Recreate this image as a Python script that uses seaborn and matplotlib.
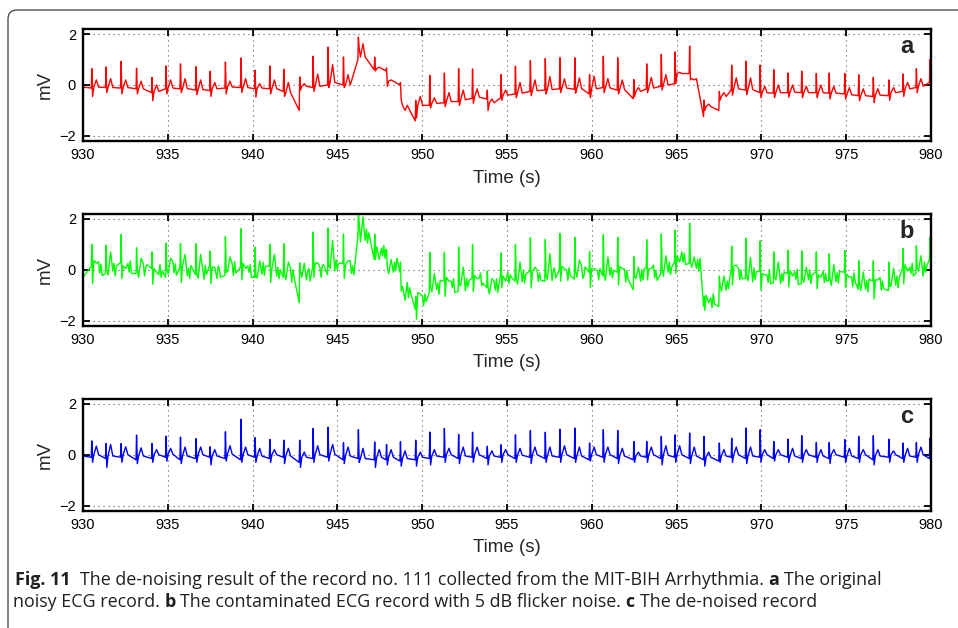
import numpy as np
import pandas as pd
import seaborn as sns
import matplotlib.pyplot as plt
from matplotlib import font_manager
from matplotlib.patches import FancyBboxPatch
from matplotlib.transforms import IdentityTransform

# R-peak times (s)
beat_t = [930.52, 931.36, 932.25, 933.16, 934.07, 934.90, 935.75, 936.67, 937.50, 938.40,
          939.32, 940.15, 941.02, 941.84, 942.78, 943.57, 944.45, 945.36, 946.24, 947.20,
          947.90, 948.72, 949.62, 950.45, 951.31, 952.15, 952.97, 953.84, 954.65, 955.50,
          956.38, 957.26, 958.12, 959.00, 959.87, 960.68, 961.53, 962.48, 963.24, 964.10,
          964.91, 965.77, 966.62, 967.52, 968.25, 969.09, 969.93, 970.73, 971.57, 972.38,
          973.24, 974.00, 974.92, 975.74, 976.60, 977.52, 978.35, 979.14, 979.94]

# a: original record (mV). per beat: level just before R, R peak, S dip,
# level after the beat, T hump
a_q = [-0.12, -0.10, -0.12, -0.15, -0.30, -0.15, -0.15, -0.20, -0.22, -0.12,
       -0.10, -0.15, -0.15, -0.25, -1.00, -0.10, 0.00, 0.00, 1.00, 0.60,
       0.55, 0.00, -1.41, -0.80, -0.70, -0.65, -0.52, -0.55, -0.50, -0.35,
       -0.25, -0.20, -0.15, -0.17, -0.35, -0.10, -0.20, -0.54, -0.15, -0.05,
       0.05, 0.45, -1.24, -1.00, -0.20, -0.20, -0.30, -0.32, -0.30, -0.30,
       -0.30, -0.32, -0.35, -0.42, -0.45, -0.42, -0.25, -0.10, 0.10]
a_r = [0.64, 0.71, 0.93, 0.66, 0.30, 0.75, 0.83, 0.72, 0.54, 0.90,
       1.06, 0.58, 0.75, 0.62, 0.32, 1.13, 1.49, 1.10, 1.88, 1.10,
       0.67, 0.10, -0.60, 0.38, 0.47, 0.64, 0.63, -0.20, 0.41, 0.74,
       0.96, 1.04, 1.07, 1.07, 0.41, 1.13, 1.07, 0.21, 0.83, 1.20,
       1.30, 1.53, -0.60, -0.25, 0.78, 0.93, 0.78, 0.60, 0.47, 0.54,
       0.45, 0.47, 0.45, 0.40, 0.30, 0.20, 0.43, 0.64, 1.00]
a_s = [-0.45, -0.30, -0.35, -0.35, -0.62, -0.35, -0.30, -0.38, -0.45, -0.35,
       -0.30, -0.48, -0.35, -0.45, -0.20, -0.25, -0.10, -0.10, 1.45, 0.55,
       -0.05, -0.60, -1.30, -0.90, -0.85, -0.80, -0.72, -1.00, -0.60, -0.50,
       -0.42, -0.35, -0.30, -0.32, -0.50, -0.30, -0.35, -0.45, -0.30, -0.20,
       0.05, 0.20, -1.00, -0.60, -0.40, -0.38, -0.50, -0.50, -0.48, -0.50,
       -0.50, -0.55, -0.55, -0.62, -0.70, -0.60, -0.45, -0.30, 0.00]
a_lvl = [-0.08, -0.10, -0.10, -0.15, -0.25, -0.12, -0.14, -0.18, -0.15, -0.08,
         -0.10, -0.12, -0.15, -0.30, -0.05, -0.05, 0.10, 0.00, 1.10, 0.65,
         0.15, -0.80, -0.80, -0.72, -0.65, -0.58, -0.48, -0.70, -0.40, -0.32,
         -0.22, -0.18, -0.12, -0.14, -0.15, -0.12, -0.18, -0.25, -0.12, 0.00,
         0.45, 0.25, -0.85, -0.45, -0.15, -0.18, -0.30, -0.30, -0.28, -0.30,
         -0.30, -0.32, -0.38, -0.42, -0.40, -0.30, -0.15, -0.05, 0.10]
a_tw = [0.20, 0.25, 0.20, 0.15, 0.00, 0.20, 0.25, 0.20, 0.10, 0.15,
        0.25, 0.05, 0.20, 0.10, 0.05, 0.43, 0.80, 0.40, 1.62, 0.70,
        0.20, -1.00, -0.45, -0.50, -0.30, -0.20, -0.15, -0.55, -0.20, 0.10,
        0.20, 0.33, 0.24, 0.28, 0.34, 0.25, 0.20, -0.10, 0.30, 0.40,
        0.50, 0.20, -0.75, -0.30, 0.28, 0.28, -0.05, 0.00, 0.00, -0.05,
        0.00, -0.05, -0.10, -0.15, -0.15, -0.10, 0.10, 0.25, 0.20]

# b: record a with 5 dB flicker noise -> slow offset per beat and the fast wiggle
# on each of the 9 points of a beat
b_drift = [.15, .15, .15, .15, .15, .15, .1, .1, .1, .1,
           .1, .1, .1, .1, -.1, .05, .05, .05, .2, 0,
           0, 0, -.35, .05, .05, .05, .05, .05, .05, 0,
           0, 0, 0, 0, 0, 0, 0, 0, 0, 0,
           0, 0, -.35, -.2, 0, 0, 0, 0, 0, 0,
           0, 0, 0, -.15, -.15, -.15, .1, .1, .1]
b_noise = [
    [.1, .2, -.25, .3, -.1, .25, -.2, .15, -.3], [-.2, .1, .15, -.25, .3, -.1, .2, -.3, .1],
    [.25, .3, -.15, .1, -.3, .2, -.15, .3, -.2], [-.15, .05, .2, -.3, .15, .25, -.25, .1, .2],
    [.2, .25, -.1, .15, -.25, -.1, .3, -.2, .05], [-.3, .15, .25, -.2, .1, .3, -.15, .2, -.25],
    [.15, .1, -.3, .2, .25, -.2, .1, -.3, .2], [-.1, .2, .1, -.25, .3, .05, -.3, .25, -.1],
    [.3, .1, -.2, .15, -.1, -.3, .2, .1, -.25], [-.2, .3, .15, -.1, .25, .2, -.25, .3, -.15],
    [.1, .45, -.2, .25, -.3, .15, -.1, .2, -.3], [-.25, .2, .1, -.3, .2, -.15, .3, -.2, .15],
    [.2, .15, -.25, .1, .3, -.2, .15, -.3, .05], [-.15, .3, .2, -.2, .1, .25, -.3, .2, -.1],
    [-.2, .05, .25, -.15, .3, -.25, .1, .2, -.3], [.15, .3, -.1, .25, -.2, .1, -.3, .15, .2],
    [-.25, .1, .2, -.1, .3, -.2, .25, -.15, .1], [.2, .25, -.3, .15, -.1, .3, -.2, .1, -.25],
    [.1, .25, .2, -.2, .25, -.15, .3, -.25, .15], [-.2, .3, -.15, .25, -.3, .2, -.1, .3, -.2],
    [.25, .1, .15, -.3, .2, -.25, .15, -.2, .3], [-.1, .2, -.25, .15, -.2, .3, -.3, .1, -.15],
    [.2, -.1, -.3, .25, -.15, .1, -.25, .2, -.1], [-.15, .25, .2, -.2, .3, -.1, .15, -.3, .25],
    [.2, .15, -.25, .3, -.2, .15, -.1, .25, -.3], [-.25, .2, .15, -.1, .25, -.3, .2, -.15, .1],
    [.15, .3, -.2, .2, -.25, .1, .3, -.2, -.1], [-.2, .1, .25, -.3, .15, .2, -.15, .3, -.25],
    [.25, .2, -.15, .1, -.3, .25, -.2, .15, .05], [-.1, .25, .2, -.25, .2, -.15, .3, -.2, .15],
    [.2, .3, -.3, .15, -.1, .2, -.25, .1, -.2], [-.25, .15, .1, -.2, .3, -.25, .15, .25, -.15],
    [.15, .35, -.15, .25, -.2, .1, -.3, .2, -.1], [-.2, .2, .25, -.15, .1, .3, -.2, -.1, .25],
    [.25, .3, -.2, .2, -.3, .15, .1, -.25, .2], [-.15, .25, .15, -.3, .25, -.1, .2, -.2, .1],
    [.1, .2, -.25, .3, -.15, .2, -.3, .15, -.2], [-.25, .3, .2, -.1, .2, -.2, .25, -.15, .3],
    [.2, .35, -.1, .15, -.25, .3, -.2, .1, -.3], [-.1, .2, .25, -.25, .15, -.1, .3, -.2, .1],
    [.25, .25, -.2, .1, -.2, .25, -.15, .2, -.25], [-.2, .3, .1, -.15, .3, -.2, .15, -.3, .2],
    [.15, -.1, -.25, .2, -.2, .1, -.3, .25, -.15], [-.25, .2, .2, -.2, .25, -.15, .2, -.1, .3],
    [.2, .15, -.2, .3, -.1, .2, -.25, .15, -.2], [-.15, .3, .15, -.25, .2, -.3, .25, -.2, .1],
    [.25, .35, -.3, .15, -.15, .1, -.2, .3, -.25], [-.2, .1, .2, -.1, .3, -.25, .15, -.15, .2],
    [.15, .3, -.2, .25, -.25, .2, -.1, .3, -.3], [-.25, .2, .15, -.2, .15, -.1, .3, -.25, .1],
    [.2, .25, -.25, .1, -.3, .25, -.2, .15, -.15], [-.1, .15, .2, -.3, .25, -.15, .2, -.2, .25],
    [.25, .3, -.15, .2, -.2, .1, -.3, .25, -.1], [-.2, .1, .25, -.25, .2, -.2, .15, -.3, .2],
    [.15, .2, -.3, .15, -.1, .25, -.25, .1, -.2], [-.25, .25, .1, -.2, .3, -.15, .2, -.25, .15],
    [.2, .3, -.2, .25, -.25, .15, -.1, .3, -.2], [-.15, .2, .25, -.1, .2, -.3, .25, -.15, .1],
    [.2, .15, -.15, .3, -.2, .2, -.25, .2, -.1]]

# c: de-noised record
c_q = [-0.1, -0.15, -0.1, -0.2, -0.15, -0.1, -0.2, -0.15, -0.1, -0.15,
       -0.2, -0.1, -0.15, -0.1, -0.3, -0.15, -0.1, -0.2, -0.15, -0.2,
       -0.2, -0.25, -0.2, -0.15, -0.1, -0.15, -0.1, -0.15, -0.1, -0.15,
       -0.1, -0.15, -0.1, -0.15, -0.2, -0.1, -0.15, -0.2, -0.1, -0.15,
       -0.1, -0.15, -0.2, -0.25, -0.1, -0.15, -0.1, -0.15, -0.1, -0.15,
       -0.1, -0.15, -0.1, -0.15, -0.2, -0.1, -0.15, -0.1, -0.15]
c_r = [0.54, 0.44, 0.44, 0.77, 0.44, 0.73, 0.69, 0.63, 0.31, 0.90,
       1.39, 0.67, 0.60, 0.57, 0.57, 1.03, 1.08, 0.47, 0.98, 0.50,
       0.40, 0.51, 0.57, 0.89, 1.03, 0.80, 0.88, 0.33, 0.39, 0.78,
       0.95, 0.88, 1.00, 1.05, 0.46, 0.98, 0.95, 0.52, 0.52, 0.72,
       0.78, 0.85, 0.72, 0.46, 0.65, 1.05, 0.98, 0.52, 0.61, 0.75,
       0.48, 0.48, 0.59, 0.72, 0.75, 0.61, 0.46, 0.48, 0.65]
c_s = [-0.30, -0.50, -0.30, -0.35, -0.30, -0.25, -0.35, -0.30, -0.40, -0.25,
       -0.30, -0.30, -0.30, -0.35, -0.50, -0.30, -0.25, -0.35, -0.30, -0.50,
       -0.40, -0.45, -0.45, -0.40, -0.30, -0.35, -0.30, -0.40, -0.30, -0.30,
       -0.35, -0.30, -0.30, -0.30, -0.25, -0.30, -0.35, -0.30, -0.30, -0.40,
       -0.30, -0.35, -0.45, -0.30, -0.30, -0.35, -0.30, -0.25, -0.30, -0.30,
       -0.30, -0.35, -0.30, -0.30, -0.40, -0.30, -0.30, -0.30, -0.30]
c_lvl = [0.0, -0.05, 0.0, -0.05, 0.0, 0.02, -0.05, 0.0, -0.05, 0.02,
         0.0, -0.05, 0.0, -0.05, -0.1, 0.0, 0.02, -0.05, -0.15, -0.1,
         -0.1, -0.15, -0.1, -0.05, 0.0, -0.05, 0.0, -0.05, 0.0, -0.02,
         0.0, -0.05, 0.0, -0.05, 0.0, 0.0, -0.05, -0.05, 0.0, -0.02,
         0.0, -0.05, -0.1, -0.05, 0.0, -0.05, 0.0, 0.0, -0.05, 0.0,
         -0.05, 0.0, -0.05, 0.0, -0.05, 0.0, -0.05, 0.0, 0.0]
c_tw = [0.34, 0.40, 0.31, 0.27, 0.20, 0.25, 0.30, 0.30, 0.20, 0.35,
        0.30, 0.25, 0.20, 0.25, 0.10, 0.35, 0.40, 0.30, 0.25, 0.20,
        0.20, 0.15, 0.10, 0.20, 0.25, 0.30, 0.30, 0.15, 0.20, 0.25,
        0.30, 0.30, 0.35, 0.30, 0.30, 0.30, 0.25, 0.10, 0.30, 0.35,
        0.35, 0.30, 0.10, 0.20, 0.30, 0.30, 0.20, 0.20, 0.25, 0.20,
        0.20, 0.20, 0.25, 0.20, 0.20, 0.15, 0.25, 0.30, 0.30]

trace_start = [-0.08, -0.30, -0.05]   # value at 930 s for a, b, c
x_ticks = [930, 935, 940, 945, 950, 955, 960, 965, 970, 975, 980]
y_ticks = [-2, 0, 2]
panel_tags = ['a', 'b', 'c']
line_colors = ['#ff0000', '#00ff00', '#0000ff']

caption = [
    [('Fig. 11', 'bold', 0),
     ('The de-noising result of the record no. 111 collected from the MIT-BIH Arrhythmia.', 'normal', 2),
     ('a', 'bold', 1), ('The original', 'normal', 1)],
    [('noisy ECG record.', 'normal', 0), ('b', 'bold', 1),
     ('The contaminated ECG record with 5 dB flicker noise.', 'normal', 1),
     ('c', 'bold', 1), ('The de-noised record', 'normal', 1)],
]


def beat_frame(start, q, r, s, lvl, tw, noise=None, drift=None):
    t_all, v_all = [930.0], [start]
    for i, t0 in enumerate(beat_t):
        pts = [(t0 - 0.03, q[i]), (t0, r[i]), (t0 + 0.045, s[i]),
               (t0 + 0.12, lvl[i]), (t0 + 0.27, tw[i]), (t0 + 0.40, lvl[i])]
        if noise is not None:
            pts += [(t0 + 0.47, lvl[i]), (t0 + 0.54, lvl[i]), (t0 + 0.61, lvl[i])]
            pts = [(t, v + noise[i][k] + drift[i]) for k, (t, v) in enumerate(pts)]
        for t, v in pts:
            t_all.append(t)
            v_all.append(v)
    return pd.DataFrame({'t': t_all, 'mV': v_all})


frames = [beat_frame(trace_start[0], a_q, a_r, a_s, a_lvl, a_tw),
          beat_frame(trace_start[1], a_q, a_r, a_s, a_lvl, a_tw, b_noise, b_drift),
          beat_frame(trace_start[2], c_q, c_r, c_s, c_lvl, c_tw)]

sns.set_theme(style='ticks')
plt.rcParams['font.family'] = ['Liberation Sans', 'DejaVu Sans']

fig = plt.figure(figsize=(9.58, 6.28), dpi=100)
panel_bottom = [0.7755, 0.4814, 0.1868]

for k in range(3):
    ax = fig.add_axes([0.0866, panel_bottom[k], 0.8852, 0.1783])
    sns.lineplot(data=frames[k], x='t', y='mV', ax=ax, color=line_colors[k],
                 linewidth=1.0, sort=False, estimator=None)
    ax.set_xlim(930, 980)
    ax.set_ylim(-2.2, 2.2)
    ax.set_xticks(x_ticks)
    ax.set_yticks(y_ticks)
    ax.grid(True, linestyle=(0, (1, 3.5)), color='#555555', linewidth=0.8)
    for sp in ax.spines.values():
        sp.set_visible(True)
        sp.set_linewidth(1.7)
        sp.set_color('black')
    ax.tick_params(direction='in', top=True, right=True, length=5, width=1.3,
                   labelsize=10.5, pad=5, colors='black')
    ax.set_xlabel('Time (s)', fontsize=13.5)
    ax.set_ylabel('mV', fontsize=13.5)
    ax.xaxis.set_label_coords(0.5, -0.255)
    ax.yaxis.set_label_coords(-0.034, 0.5)
    ax.text(0.971, 0.842, panel_tags[k], transform=ax.transAxes, fontsize=17,
            fontweight='bold', ha='center', va='center')

# caption box of the journal page
frame = FancyBboxPatch((8, -40), 1000, 658, boxstyle='round,pad=0,rounding_size=9',
                       transform=IdentityTransform(), fill=False,
                       edgecolor='#3c3c3c', linewidth=0.9)
fig.add_artist(frame)

names = {f.name for f in font_manager.fontManager.ttflist}
cap_font = 'Liberation Sans Narrow' if 'Liberation Sans Narrow' in names else 'Open Sans'
renderer = fig.canvas.get_renderer()


def text_width(s, size, weight):
    t = fig.text(0, 0, s, fontsize=size, fontweight=weight, family=cap_font)
    w = t.get_window_extent(renderer=renderer).width
    t.remove()
    return w


def line_width(parts, size):
    sp = text_width('x x', size, 'normal') - text_width('xx', size, 'normal')
    return sum(text_width(s, size, w) + g * sp for s, w, g in parts)


cap_size = 10 * 865 / line_width(caption[0], 10)
space = text_width('x x', cap_size, 'normal') - text_width('xx', cap_size, 'normal')
for parts, x0, y0 in zip(caption, [15, 13], [585, 607]):
    x = x0
    for s, w, g in parts:
        x += g * space
        t = fig.text(x / 958, 1 - y0 / 628, s, fontsize=cap_size, fontweight=w,
                     family=cap_font, color='#231f20', va='baseline')
        x += t.get_window_extent(renderer=renderer).width

fig.savefig('out.png', dpi=100)
